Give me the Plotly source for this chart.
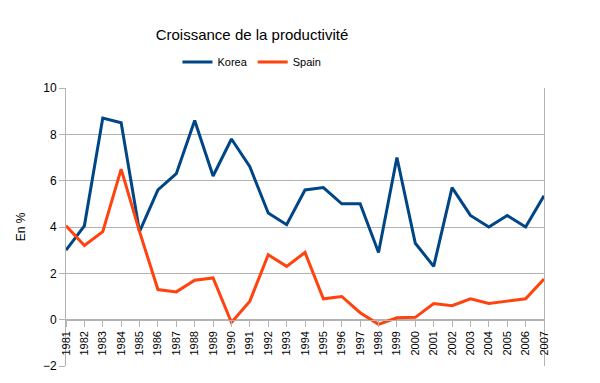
import plotly.graph_objects as go

years = list(range(1981, 2008))
korea = [3.0, 4.05, 8.7, 8.5, 3.8, 5.6, 6.3, 8.6, 6.2, 7.8, 6.6, 4.6, 4.1, 5.6, 5.7,
         5.0, 5.0, 2.9, 7.0, 3.3, 2.3, 5.7, 4.5, 4.0, 4.5, 4.0, 5.35]
spain = [4.05, 3.2, 3.8, 6.5, 3.8, 1.3, 1.2, 1.7, 1.8, -0.12, 0.8, 2.8, 2.3, 2.9, 0.9,
         1.0, 0.3, -0.2, 0.08, 0.1, 0.7, 0.6, 0.9, 0.7, 0.8, 0.9, 1.75]
y_ticks = [-2, 0, 2, 4, 6, 8, 10]

fig = go.Figure()
fig.add_trace(go.Scatter(x=years, y=korea, mode="lines", name="Korea",
                         line=dict(color="#004586", width=3)))
fig.add_trace(go.Scatter(x=years, y=spain, mode="lines", name="Spain",
                         line=dict(color="#ff420e", width=3)))

grid = "#b3b3b3"
fig.update_layout(
    width=600, height=383,
    margin=dict(l=66, r=56, t=88, b=17),
    paper_bgcolor="white", plot_bgcolor="white",
    font=dict(family="Liberation Sans, Arial, sans-serif", color="#000000", size=11),
    title=dict(text="Croissance de la productivité", x=252/600, xref="container", xanchor="center",
               y=1 - 35/383, yref="container", yanchor="middle",
               font=dict(size=15, color="#000000")),
    legend=dict(orientation="h", x=0.389, xanchor="center", y=(366-62)/278, yanchor="middle",
                font=dict(size=11), itemwidth=30, tracegroupgap=0, bgcolor="rgba(0,0,0,0)"),
    showlegend=True,
)
fig.update_xaxes(
    range=[1981, 2007], tickvals=years, ticktext=[str(y) for y in years],
    tickangle=-90, anchor="free", position=2/12, automargin=False,
    showline=True, linecolor=grid, linewidth=1,
    ticks="outside", ticklen=6, tickcolor=grid,
    showgrid=False, zeroline=False, tickfont=dict(size=11),
)
fig.update_yaxes(
    range=[-2, 10], tickvals=y_ticks, showgrid=True, gridcolor=grid, gridwidth=1,
    showline=True, linecolor=grid, mirror=True, linewidth=1, automargin=False,
    ticks="outside", ticklen=6, tickcolor=grid, zeroline=False,
    title=dict(text="En %", font=dict(size=12), standoff=14), tickfont=dict(size=12),
)
fig.write_html("out.html", config={"displayModeBar": False},
               post_script="document.body.style.margin='0';document.body.style.overflow='hidden';")
